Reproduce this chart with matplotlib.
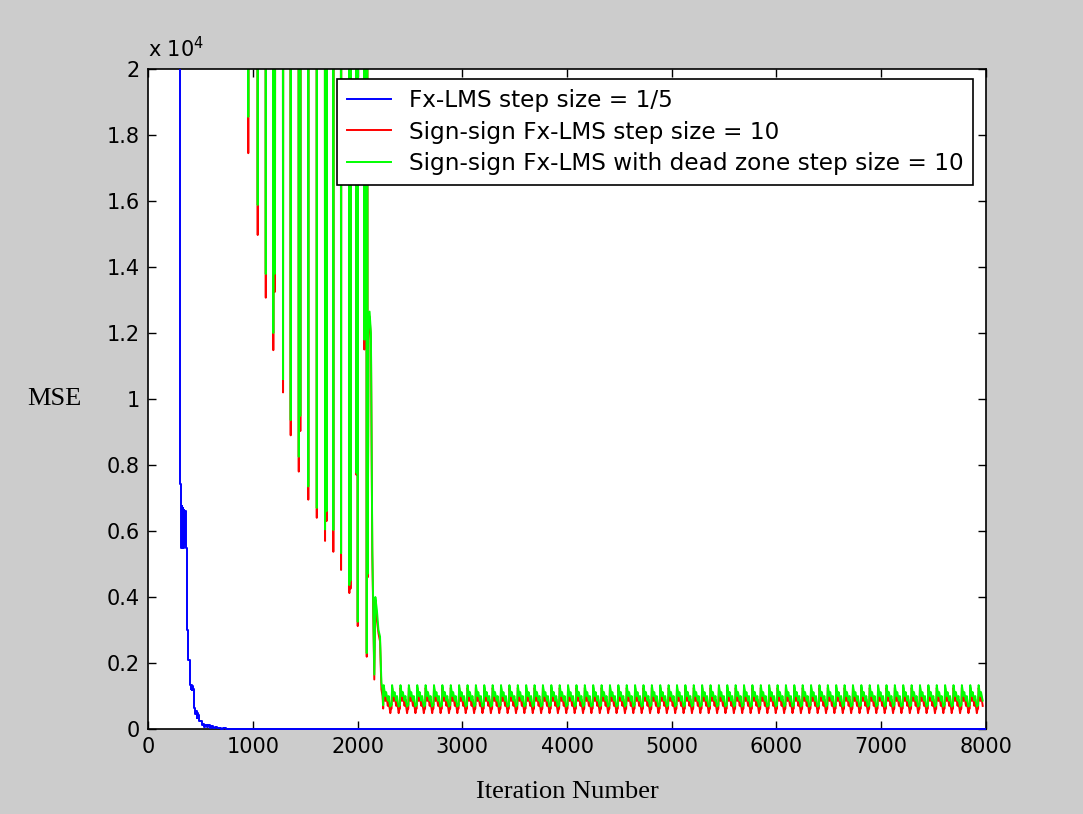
import matplotlib
matplotlib.use("Agg")
import matplotlib.pyplot as plt
from matplotlib.ticker import FuncFormatter, MultipleLocator
from matplotlib.transforms import Bbox, TransformedBbox

# Fx-LMS, step size 1/5: block-wise mean squared error
blue_iter = [0, 305, 318, 322, 326, 330, 334, 340, 346, 352, 362, 370, 384, 400, 406,
             410, 416, 422, 430, 440, 448, 456, 464, 472, 480, 488, 500, 512, 524, 536,
             548, 560, 575, 590, 605, 620, 640, 660, 680, 700, 720, 740, 760, 800, 8000]
blue_mse = [45000, 7440, 5500, 6750, 5550, 6700, 5500, 6650, 5600, 6600, 5500, 3000, 2090,
            1330, 1200, 1320, 1180, 1300, 1200, 630, 450, 560, 330, 480, 420, 250, 230, 120,
            160, 70, 130, 60, 110, 40, 80, 30, 60, 20, 45, 15, 35, 8, 4, 2, 1]

# Sign-sign variants while converging: the MSE sits above the plotted range
# and dips once per excitation period
off_scale = 40000
dip_iter = [957, 1047, 1124, 1196, 1212, 1289, 1362, 1439, 1454, 1530, 1611, 1690, 1704,
            1769, 1843, 1922, 1933, 1990, 2002, 2065, 2088]
dip_green = [18550, 15880, 13790, 12000, 13800, 10600, 9360, 8250, 9490, 7350, 6700, 6050,
             6600, 6030, 5330, 4360, 4500, 7760, 3250, 11800, 2300]
dip_red = [17450, 14970, 13070, 11480, 13250, 10200, 8900, 7800, 9030, 6950, 6400, 5700,
           6300, 5370, 4820, 4120, 4250, 7700, 3120, 11500, 2190]

# final descent into steady state
settle_iter = [2097, 2105, 2115, 2128, 2141, 2160, 2170, 2185, 2200, 2215, 2228, 2239]
settle_green = [4700, 12100, 12650, 12000, 5500, 1650, 4000, 3600, 3000, 2800, 1400, 1200]
settle_red = [4600, 12000, 12500, 11800, 5270, 1500, 3900, 3300, 2900, 2650, 1200, 1000]

# one 80-iteration period of the steady-state ripple
cycle_start = 2245
cycle_period = 80
cycle_count = 72
cycle_offset = [0, 5, 12, 20, 28, 36, 44, 52, 60, 68, 75]
cycle_green = [720, 1330, 1180, 1000, 1120, 980, 860, 1000, 800, 680, 760]
cycle_red = [620, 1250, 1080, 850, 1020, 880, 700, 900, 660, 480, 620]
last_iter = 7975


def sign_sign_curve(dips, settle, cycle):
    it, val = [0], [off_scale]
    for t, m in zip(dip_iter, dips):
        it += [t - 4, t, t + 4]
        val += [off_scale, m, off_scale]
    it += settle_iter
    val += settle
    for k in range(cycle_count):
        for o, v in zip(cycle_offset, cycle):
            t = cycle_start + k * cycle_period + o
            if t <= last_iter:
                it.append(t)
                val.append(v)
    return it, val


green_iter, green_mse = sign_sign_curve(dip_green, settle_green, cycle_green)
red_iter, red_mse = sign_sign_curve(dip_red, settle_red, cycle_red)

labels = ["Fx-LMS step size = 1/5",
          "Sign-sign Fx-LMS step size = 10",
          "Sign-sign Fx-LMS with dead zone step size = 10"]

fig = plt.figure(figsize=(10.83, 8.14), dpi=100, facecolor="#cccccc")
ax = fig.add_axes([0.1367, 0.1044, 0.7737, 0.8108])
ax.set_facecolor("white")

lb, = ax.plot(blue_iter, blue_mse, color="#0000ff", lw=1.4, drawstyle="steps-post", zorder=3)
lr, = ax.plot(red_iter, red_mse, color="#ff0000", lw=1.4, zorder=2)
lg, = ax.plot(green_iter, green_mse, color="#00ff00", lw=1.4, zorder=2.2)

# let the converged blue trace sit fully on top of the x axis line
lb.set_clip_path(None)
lb.set_clip_box(TransformedBbox(Bbox([[0, -0.01], [1, 1]]), ax.transAxes))

ax.set_xlim(0, 8000)
ax.set_ylim(0, 20000)
ax.xaxis.set_major_locator(MultipleLocator(1000))
ax.yaxis.set_major_locator(MultipleLocator(2000))
ax.yaxis.set_major_formatter(FuncFormatter(lambda v, p: "%g" % (v / 1e4)))

ax.tick_params(direction="in", length=6, width=1.0, top=True, right=True,
               labelsize=15, pad=6, colors="black")
for s in ax.spines.values():
    s.set_linewidth(1.2)
    s.set_color("black")

ax.text(0.0, 1.012, "x 10$^{4}$", transform=ax.transAxes, fontsize=15,
        ha="left", va="bottom")

ax.set_xlabel("Iteration Number", family="Liberation Serif", fontsize=19, labelpad=17)
ax.set_ylabel("MSE", family="Liberation Serif", fontsize=19, rotation=0,
              ha="right", va="center", labelpad=18)

leg = ax.legend([lb, lr, lg], labels, loc="upper right",
                bbox_to_anchor=(0.9845, 0.9848), borderaxespad=0.0,
                fontsize=16.7, frameon=True, fancybox=False, framealpha=1,
                edgecolor="black", handlelength=1.9, handletextpad=0.75,
                borderpad=0.42, labelspacing=0.38)
leg.get_frame().set_linewidth(1.2)

fig.savefig("out.png", dpi=100, facecolor=fig.get_facecolor())
